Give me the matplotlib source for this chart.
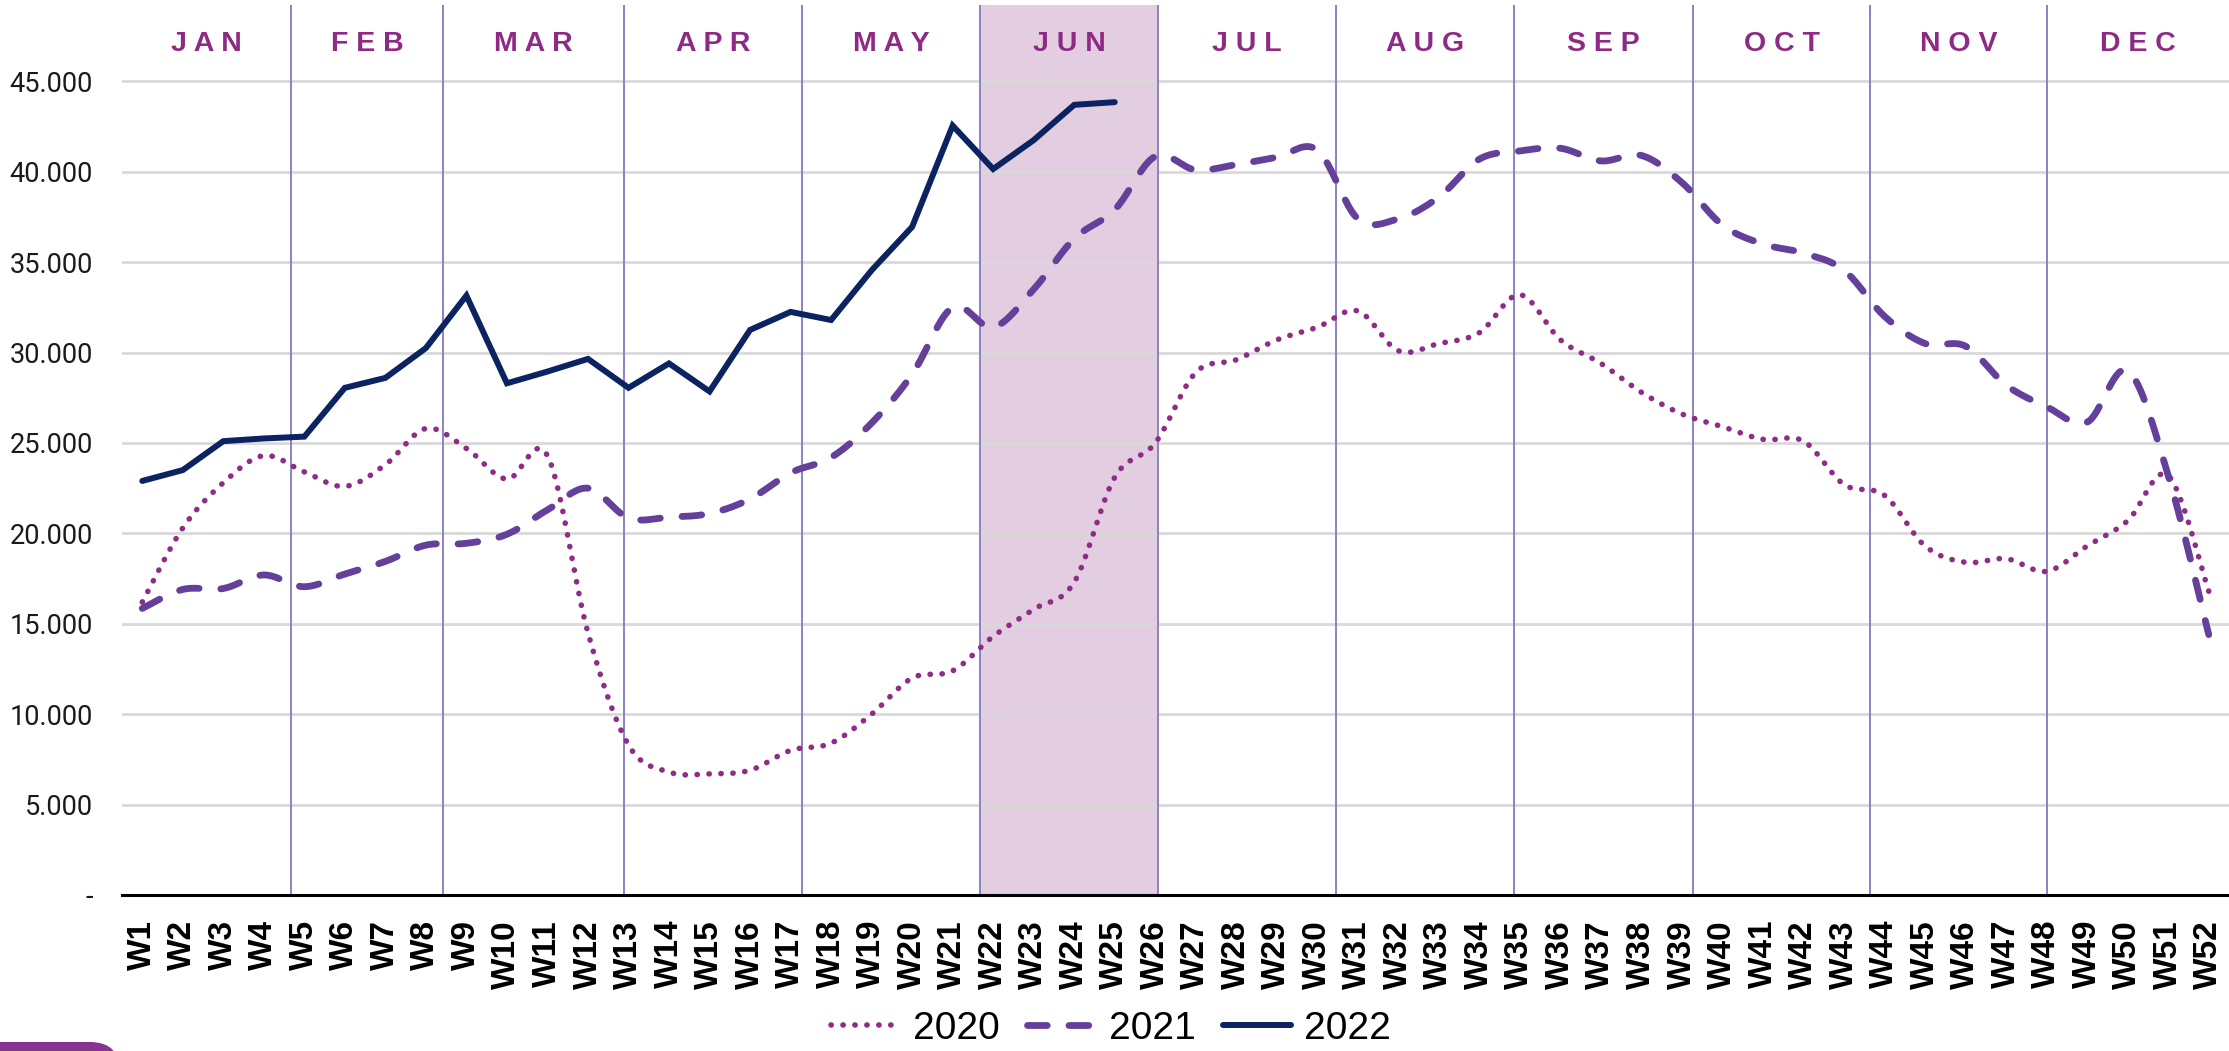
import numpy as np
import matplotlib
matplotlib.use('Agg')
import matplotlib.pyplot as plt
from matplotlib.patches import FancyBboxPatch
from matplotlib.transforms import IdentityTransform, blended_transform_factory

# weekly values (thousands)
weeks = ['W%d' % i for i in range(1, 53)]
v2020 = [16.2, 20.3, 22.8, 24.3, 23.4, 22.6, 23.8, 25.8, 24.7, 23.0,
         24.3, 14.5, 8.3, 6.8, 6.7, 6.9, 8.0, 8.4, 10.0, 12.0,
         12.4, 14.3, 15.8, 17.3, 23.1, 25.0, 28.9, 29.6, 30.7, 31.4,
         32.3, 30.1, 30.5, 31.1, 33.2, 30.7, 29.4, 27.8, 26.6, 25.9,
         25.2, 25.1, 22.7, 22.1, 19.3, 18.4, 18.6, 17.9, 19.3, 20.7,
         23.2, 16.8]
v2021 = [15.85, 16.9, 16.95, 17.7, 17.05, 17.75, 18.45, 19.35, 19.45, 19.95,
         21.3, 22.5, 20.85, 20.9, 21.1, 21.9, 23.35, 24.2, 26.1, 28.8,
         32.5, 31.4, 33.5, 36.3, 37.9, 40.85, 40.1, 40.4, 40.8, 41.2,
         37.4, 37.4, 38.6, 40.7, 41.15, 41.3, 40.6, 40.9, 39.4, 37.05,
         36.0, 35.5, 34.55, 32.0, 30.5, 30.35, 28.2, 27.0, 26.15, 29.0,
         23.2, 14.4]
v2022 = [22.9, 23.5, 25.1, 25.25, 25.35, 28.05, 28.6, 30.25, 33.15, 28.3,
         28.95, 29.65, 28.05, 29.4, 27.85, 31.25, 32.25, 31.8, 34.55, 36.95,
         42.55, 40.15, 41.75, 43.7, 43.85]

months = ['JAN', 'FEB', 'MAR', 'APR', 'MAY', 'JUN', 'JUL', 'AUG', 'SEP', 'OCT', 'NOV', 'DEC']
# month boundaries, in week-index units (W1 = 0)
month_edges = [-0.5, 3.68, 7.41, 11.89, 16.28, 20.68, 25.07, 29.47, 33.86, 38.26, 42.65, 47.01, 51.5]
highlight = 'JUN'

yticks = [0, 5000, 10000, 15000, 20000, 25000, 30000, 35000, 40000, 45000]
ylabels = ['-', '5.000', '10.000', '15.000', '20.000', '25.000', '30.000', '35.000', '40.000', '45.000']

C2020 = '#8E2C87'
C2021 = '#64409A'
C2022 = '#0B2360'
MONTH_TXT = '#8E2A85'
MONTH_LINE = '#8A82C4'


def smooth(y, n=20):
    # excel-like smoothed line (catmull-rom through the points)
    y = np.asarray(y, dtype=float)
    x = np.arange(len(y), dtype=float)
    p = np.column_stack([x, y])
    p = np.vstack([p[0], p, p[-1]])
    out = []
    t = np.linspace(0, 1, n, endpoint=False)[:, None]
    for i in range(1, len(p) - 2):
        p0, p1, p2, p3 = p[i - 1], p[i], p[i + 1], p[i + 2]
        c1 = p1 + (p2 - p0) / 6
        c2 = p2 - (p3 - p1) / 6
        seg = ((1 - t) ** 3) * p1 + 3 * ((1 - t) ** 2) * t * c1 + 3 * (1 - t) * t ** 2 * c2 + t ** 3 * p2
        out.append(seg)
    out.append(p[-2][None, :])
    out = np.vstack(out)
    return out[:, 0], out[:, 1]


fig = plt.figure(figsize=(22.29, 10.51), dpi=100)
ax = fig.add_axes([122 / 2229, 156 / 1051, 2107 / 2229, 890.5 / 1051])

ax.set_xlim(-0.5, 51.5)
ax.set_ylim(0, 49250)

# JUN shading + month separators
j = months.index(highlight)
ax.axvspan(month_edges[j], month_edges[j + 1], color='#E3CDE1', zorder=0, lw=0)
for e in month_edges[1:-1]:
    ax.axvline(e, color=MONTH_LINE, lw=1.4, zorder=1.5)

trans = blended_transform_factory(ax.transData, ax.transAxes)
for i, m in enumerate(months):
    xc = (month_edges[i] + month_edges[i + 1]) / 2
    ax.text(xc, 0.956, ' '.join(m), transform=trans, ha='center', va='center',
            fontsize=20.5, fontweight='bold', color=MONTH_TXT, family='Liberation Sans')

for yv in yticks[1:]:
    ax.axhline(yv, color='#D9D9D9', lw=2, zorder=0.8)

sx, sy = smooth(np.array(v2020) * 1000)
l20, = ax.plot(sx, sy, color=C2020, lw=4.0, dash_capstyle='round', zorder=3, label='2020')
l20.set_dashes([0.05, 2.1])

sx, sy = smooth(np.array(v2021) * 1000)
l21, = ax.plot(sx, sy, color=C2021, lw=4.9, dash_capstyle='round', zorder=3, label='2021')
l21.set_dashes([2.9, 3.2])

ax.plot(np.arange(len(v2022)), np.array(v2022) * 1000, color=C2022, lw=4.3,
        solid_joinstyle='miter', solid_capstyle='round', zorder=4, label='2022')

ax.set_xticks(np.arange(len(weeks)))
ax.set_xticklabels(weeks, rotation=90, fontsize=24, fontweight='bold', family='Liberation Sans')
ax.set_yticks(yticks)
ax.set_yticklabels(ylabels, fontsize=19.5, family='Roboto', color='#1a1a1a')
ax.tick_params(axis='x', length=0, pad=18)
ax.tick_params(axis='y', length=0, pad=21)

for s in ['top', 'right', 'left']:
    ax.spines[s].set_visible(False)
ax.spines['bottom'].set_color('black')
ax.spines['bottom'].set_linewidth(2.2)
ax.spines['bottom'].set_zorder(5)

fig.legend(handles=[l20, l21, ax.lines[-1]], loc='center', bbox_to_anchor=(0.4985, 0.021),
           ncol=3, frameon=False, handlelength=1.75, handletextpad=0.35, columnspacing=0.7,
           prop={'family': ['Liberation Sans Narrow', 'Liberation Sans'], 'size': 28})

# little purple tab in the bottom-left corner
tab = FancyBboxPatch((-40, -40), 160, 49, boxstyle='round,pad=0,rounding_size=30',
                     transform=IdentityTransform(), facecolor='#85358F', edgecolor='none')
fig.patches.append(tab)

fig.savefig('out.png', dpi=100, facecolor='white')
